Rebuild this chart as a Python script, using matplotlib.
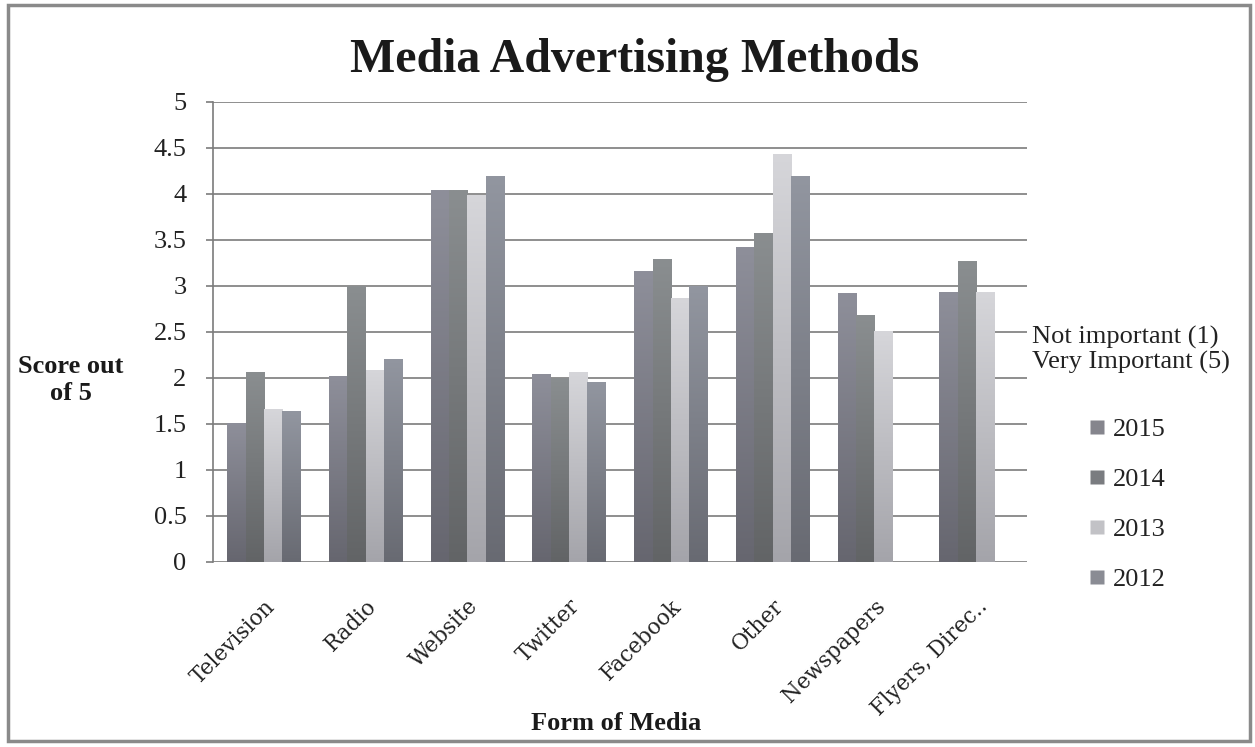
import numpy as np
import matplotlib
matplotlib.use("Agg")
import matplotlib.pyplot as plt
from matplotlib.colors import LinearSegmentedColormap
from matplotlib.patches import Rectangle
from matplotlib.lines import Line2D

categories = ["Television", "Radio", "Website", "Twitter", "Facebook",
              "Other", "Newspapers", "Flyers, Direc.."]
series_names = ["2015", "2014", "2013", "2012"]
v2015 = [1.51, 2.02, 4.04, 2.04, 3.16, 3.42, 2.92, 2.94]
v2014 = [2.06, 3.00, 4.04, 2.00, 3.29, 3.58, 2.68, 3.27]
v2013 = [1.66, 2.09, 3.99, 2.06, 2.87, 4.44, 2.51, 2.93]
v2012 = [1.64, 2.21, 4.20, 1.96, 3.00, 4.20, np.nan, np.nan]
series_values = [v2015, v2014, v2013, v2012]
yticks = [0, 0.5, 1, 1.5, 2, 2.5, 3, 3.5, 4, 4.5, 5]
ytick_labels = ["0", "0.5", "1", "1.5", "2", "2.5", "3", "3.5", "4", "4.5", "5"]

# (bottom colour, top colour) for the gradient-like scanned look
grads = [("#66666f", "#8e8f9a"),
         ("#626466", "#8a8e90"),
         ("#a4a4aa", "#d6d6da"),
         ("#686a72", "#9296a0")]
legend_cols = ["#85858d", "#7a7c80", "#c2c2c6", "#8a8c94"]

serif = "Liberation Serif"

fig = plt.figure(figsize=(12.55, 7.47), dpi=100)
fig.patch.set_facecolor("white")
ax = fig.add_axes([213 / 1255, 1 - 562 / 747, 814 / 1255, 460 / 747])

x = np.arange(len(categories))
w = 0.18
for i, (name, vals) in enumerate(zip(series_names, series_values)):
    bars = ax.bar(x + (i - 1.5) * w, vals, width=w, facecolor="none",
                  edgecolor="none", label=name, zorder=2)
    cmap = LinearSegmentedColormap.from_list("g%d" % i, list(grads[i]))
    grad = np.linspace(0, 1, 256).reshape(-1, 1)
    for b in bars:
        h = b.get_height()
        if not np.isfinite(h) or h <= 0:
            continue
        x0 = b.get_x()
        im = ax.imshow(grad, cmap=cmap, origin="lower", aspect="auto",
                       extent=(x0, x0 + b.get_width(), 0, h), zorder=2,
                       interpolation="bilinear")
        im.set_clip_path(b)

ax.set_xlim(-0.5, len(categories) - 0.5)
ax.set_ylim(0, 5)
ax.set_axisbelow(True)
ax.yaxis.grid(True, color="#7c7c7c", linewidth=1.2)
ax.xaxis.grid(False)
for s in ["top", "right", "bottom"]:
    ax.spines[s].set_visible(False)
ax.spines["left"].set_color("#7c7c7c")
ax.spines["left"].set_linewidth(1.2)

ax.set_yticks(yticks)
ax.set_yticklabels(ytick_labels, fontfamily=serif, fontsize=19, color="#222222")
ax.tick_params(axis="y", length=5, width=1.2, color="#7c7c7c", pad=14)
ax.set_xticks(x)
ax.set_xticklabels(categories, rotation=45, ha="right", va="top",
                   rotation_mode="anchor", fontfamily="DejaVu Serif",
                   fontsize=15.5, color="#222222")
ax.tick_params(axis="x", length=0, pad=24)

fig.text(635 / 1255, 1 - 60 / 747, "Media Advertising Methods",
         fontfamily=serif, fontweight="bold", fontsize=34.5,
         ha="center", va="center", color="#1a1a1a")
fig.text(71 / 1255, 1 - 380 / 747, "Score out\nof 5", fontfamily=serif,
         fontweight="bold", fontsize=19, ha="center", va="center",
         linespacing=1.25, color="#1a1a1a")
fig.text(616 / 1255, 1 - 724 / 747, "Form of Media", fontfamily=serif,
         fontweight="bold", fontsize=19, ha="center", va="center",
         color="#1a1a1a")
fig.text(1032 / 1255, 1 - 350 / 747, "Not important (1)\nVery Important (5)",
         fontfamily=serif, fontsize=19, ha="left", va="center",
         linespacing=1.1, color="#222222")

handles = [Line2D([], [], marker="s", linestyle="none", markersize=10,
                  markerfacecolor=c, markeredgecolor="none") for c in legend_cols]
leg = fig.legend(handles, series_names, loc="upper left",
                 bbox_to_anchor=(1089 / 1255, 1 - 418 / 747),
                 frameon=False, prop={"family": serif, "size": 19},
                 handlelength=0.6, handletextpad=0.3, labelspacing=1.0,
                 borderaxespad=0, borderpad=0)
for t in leg.get_texts():
    t.set_color("#222222")

fig.patches.append(Rectangle((8 / 1255, 1 - 741 / 747), 1242 / 1255, 736 / 747,
                             transform=fig.transFigure, fill=False,
                             edgecolor="#8a8a8a", linewidth=2.5))

fig.savefig("out.png", dpi=100, facecolor="white")
